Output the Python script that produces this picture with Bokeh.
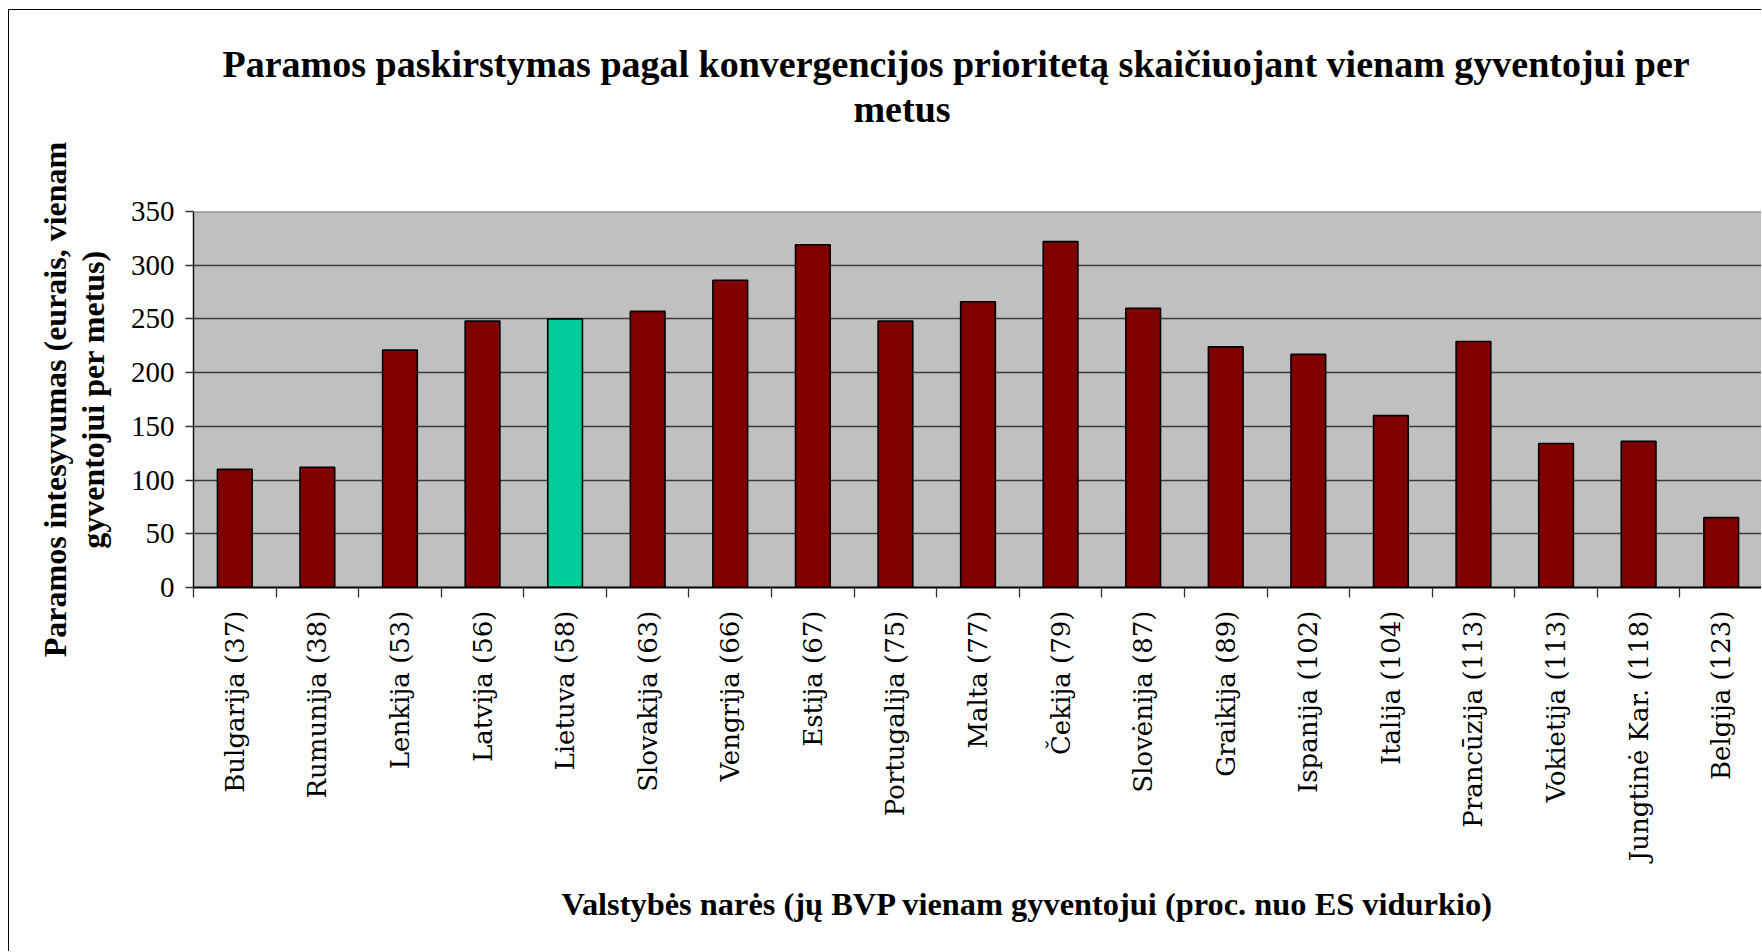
import math
from bokeh.plotting import figure
from bokeh.models import ColumnDataSource, Range1d, FixedTicker, Span, Title, LinearAxis
from bokeh.embed import file_html
from bokeh.resources import INLINE

# ---------------- data ----------------
countries = ["Bulgarija (37)", "Rumunija (38)", "Lenkija (53)", "Latvija (56)", "Lietuva (58)",
             "Slovakija (63)", "Vengrija (66)", "Estija (67)", "Portugalija (75)", "Malta (77)",
             "Čekija (79)", "Slovėnija (87)", "Graikija (89)", "Ispanija (102)", "Italija (104)",
             "Prancūzija (113)", "Vokietija (113)", "Jungtinė Kar. (118)", "Belgija (123)"]
support = [110, 112, 221, 248, 250, 257, 286, 319, 248, 266, 322, 260, 224, 217, 160, 229, 134, 136, 65]
highlight = "Lietuva (58)"
y_ticks = [0, 50, 100, 150, 200, 250, 300, 350]

title_lines = ["Paramos paskirstymas pagal konvergencijos prioritetą skaičiuojant vienam gyventojui per",
               "metus"]
y_title_lines = ["Paramos intesyvumas (eurais, vienam", "gyventojui per metus)"]
x_title = "Valstybės narės (jų BVP vienam gyventojui (proc. nuo ES vidurkio)"

# ---------------- layout ----------------
OX, OY = 9, 10                          # page position of figure content (margin + border)
W, H = 1762 - OX, 952 - OY
FL, FR, FT, FB = 193, 1762, 211, 587    # frame edges in page px

n = len(countries)
pos = list(range(n))
X0, X1 = -0.5, n - 0.5
colors = ["#00CC99" if c == highlight else "#800000" for c in countries]
src = ColumnDataSource(dict(pos=pos, support=support, color=colors, name=countries))

p = figure(width=W, height=H, x_range=Range1d(X0, X1),
           y_range=Range1d(y_ticks[0], y_ticks[-1]),
           output_backend="svg", toolbar_location=None,
           min_border_left=FL - OX, min_border_right=0,
           min_border_top=FT - OY, min_border_bottom=952 - FB)
p.styles = {"margin-left": "8px", "margin-top": "9px",
            "border-left": "1px solid #000000", "border-top": "1px solid #000000"}
p.background_fill_color = "#C0C0C0"
p.border_fill_color = "white"
p.outline_line_color = None

p.vbar(x="pos", top="support", width=0.42, fill_color="color", line_color="black",
       line_width=1.6, source=src)

# grid
p.xgrid.visible = False
p.ygrid.ticker = FixedTicker(ticks=y_ticks[1:-1])
p.ygrid.grid_line_color = "#3a3a3a"
p.ygrid.grid_line_width = 1.3
p.add_layout(Span(location=y_ticks[-1], dimension="width", line_color="#808080", line_width=2))

# y axis
p.yaxis.ticker = FixedTicker(ticks=y_ticks)
p.yaxis.major_label_text_font = "Liberation Serif"
p.yaxis.major_label_text_font_size = "29px"
p.yaxis.major_label_text_color = "black"
p.yaxis.major_tick_out = 8
p.yaxis.major_tick_in = 0
p.yaxis.minor_tick_line_color = None
p.yaxis.major_label_standoff = 11
p.yaxis.axis_line_color = "#111111"
p.yaxis.axis_line_width = 1.5
p.yaxis.major_tick_line_color = "#333333"
p.yaxis.major_tick_line_width = 1.3

# x axis: labels at centers, tick marks at category boundaries
p.xaxis.ticker = FixedTicker(ticks=pos, minor_ticks=[i - 0.5 for i in range(n + 1)])
p.xaxis.major_label_overrides = {i: c for i, c in enumerate(countries)}
p.xaxis.major_label_orientation = math.pi / 2
p.xaxis.major_label_text_font = "DejaVu Serif"
p.xaxis.major_label_text_font_size = "26px"
p.xaxis.major_label_text_color = "black"
p.xaxis.major_tick_out = 0
p.xaxis.major_tick_in = 0
p.xaxis.major_tick_line_color = None
p.xaxis.minor_tick_out = 10
p.xaxis.minor_tick_in = 0
p.xaxis.minor_tick_line_color = "#333333"
p.xaxis.minor_tick_line_width = 1.3
p.xaxis.major_label_standoff = 13
p.xaxis.axis_line_color = "black"
p.xaxis.axis_line_width = 2


def xd(X):
    """page pixel -> x data coordinate"""
    return round(X0 + (X - FL) * (X1 - X0) / (FR - FL), 4)


# second title line drawn as the single label of a bare axis above the frame
metus_pos = xd(901.5)
top_axis = LinearAxis(ticker=FixedTicker(ticks=[metus_pos], minor_ticks=[]),
                      major_label_overrides={metus_pos: title_lines[1]},
                      axis_line_color=None, major_tick_line_color=None,
                      minor_tick_line_color=None, major_tick_out=0, major_tick_in=0,
                      minor_tick_out=0, minor_tick_in=0, major_label_standoff=82,
                      major_label_text_font="Liberation Serif",
                      major_label_text_font_style="bold",
                      major_label_text_font_size="38px", major_label_text_color="black")
p.add_layout(top_axis, "above")

tstyle = dict(text_font="Liberation Serif", text_font_style="bold", text_color="black")
p.add_layout(Title(text=title_lines[0], text_font_size="38px", align="left",
                   offset=222 - FL, standoff=-1, **tstyle), "above")
p.add_layout(Title(text=x_title, text_font_size="32.4px", align="left",
                   offset=561 - FL, standoff=38, **tstyle), "below")
p.add_layout(Title(text=y_title_lines[1], text_font_size="32px", align="center",
                   standoff=34, **tstyle), "left")
p.add_layout(Title(text=y_title_lines[0], text_font_size="32px", align="center",
                   standoff=-34, **tstyle), "left")

open("out.html", "w").write(file_html(p, INLINE))
